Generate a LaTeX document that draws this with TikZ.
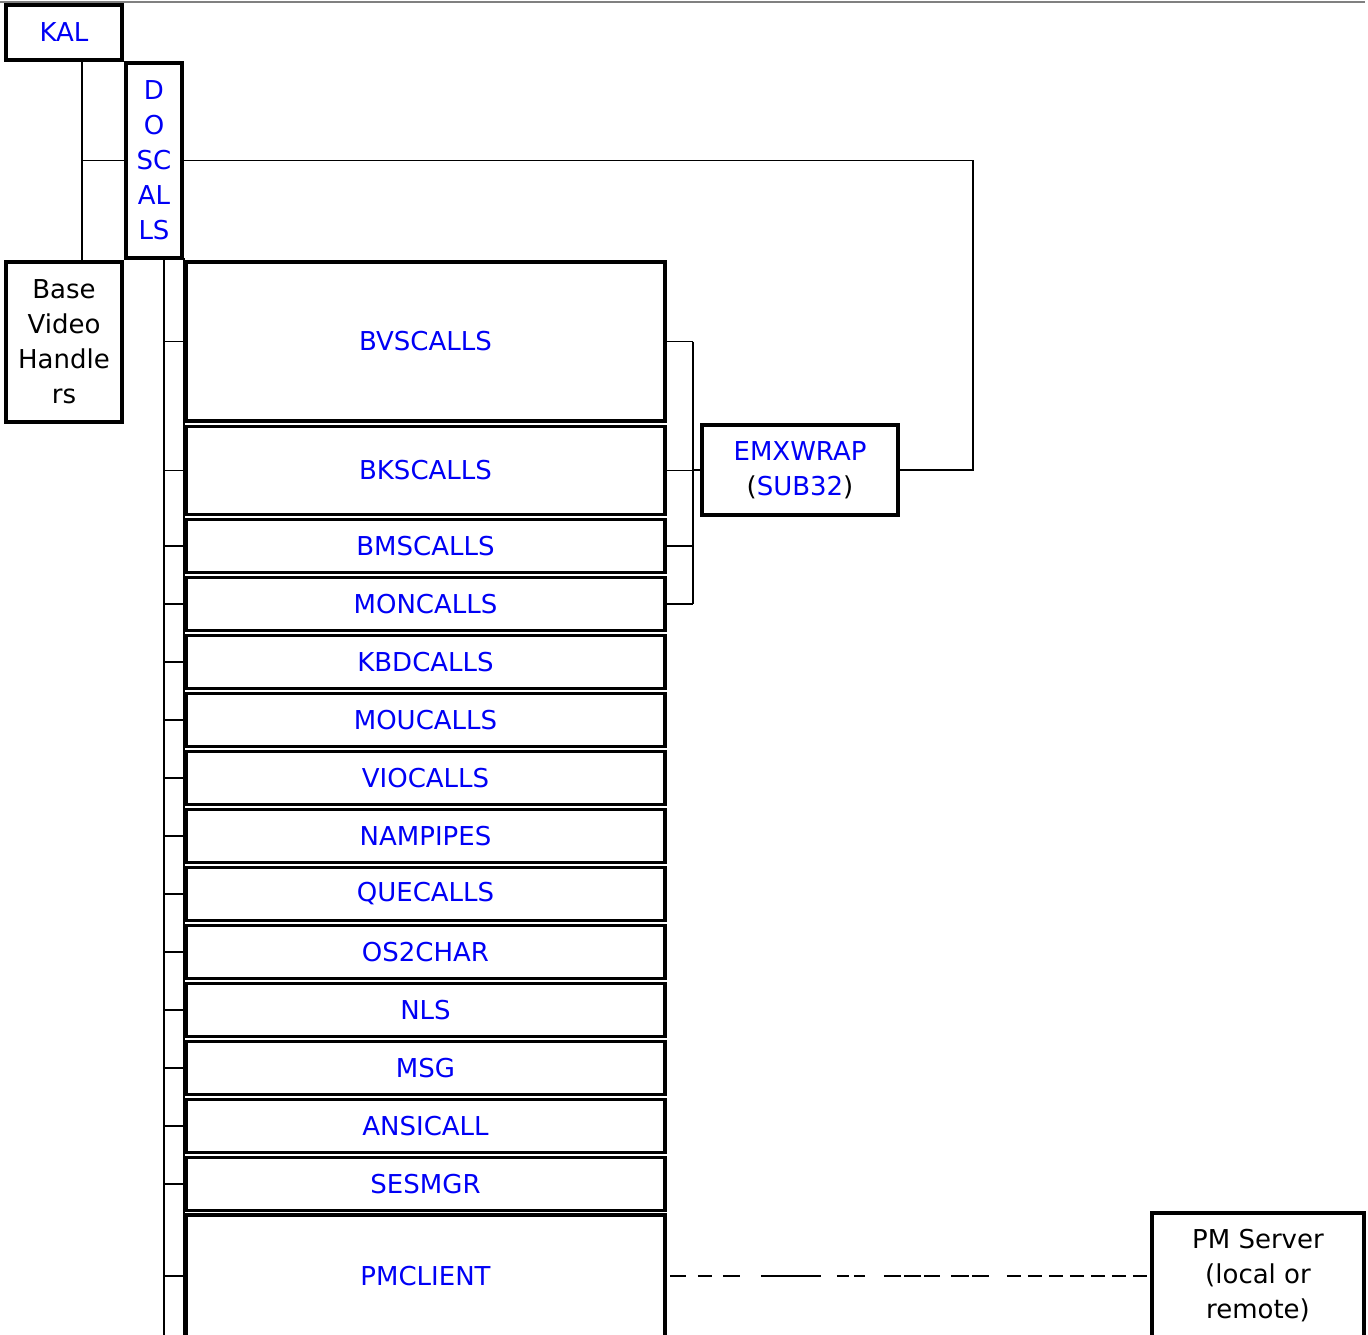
\documentclass[tikz,border=0pt]{standalone}
\usepackage{fontspec}
\setmainfont{DejaVu Sans}
\usetikzlibrary{positioning}
\definecolor{callblue}{RGB}{0,0,245}

\begin{document}
\begin{tikzpicture}[x=1pt, y=-1pt,
          unit/.style={
              draw,
              line width=3.5pt,
              inner sep=0pt,
              align=center,
              text=callblue,
              font=\fontsize{26}{35}\selectfont
            },
          call/.style={unit, minimum width=479pt, minimum height=53pt},
          link/.style={line width=1.6pt},
          pipe/.style={link, dash pattern=on 0pt off 3pt on 16pt off 12pt on 14pt off 11pt on 17pt off 21pt
              on 60pt off 16pt on 12pt off 5pt on 11pt off 19pt on 17pt off 3pt on 17pt off 3pt on 16pt off 11pt
              on 18pt off 3pt on 17pt off 18pt
              on 14pt off 7pt on 14pt off 7pt on 14pt off 7pt on 14pt off 7pt on 14pt off 7pt
              on 14pt off 7pt on 14pt off 7pt}
        ]
        \useasboundingbox (0,0) rectangle (1368,1334);
        \clip (0,0) rectangle (1368,1334);
        \draw[gray, line width=1.5pt] (0,2) -- (1365,2);

        \node[unit, minimum width=116pt, minimum height=55pt] (kal) at (64,32.5) {KAL};
        \node[unit, minimum width=56pt, minimum height=195pt] (doscalls) at (154,160.5) {D\\O\\SC\\AL\\LS};
        \node[unit, text=black, minimum width=116pt, minimum height=160pt] (bvh) at (64,342) {Base\\Video\\Handle\\rs};

        \node[call, minimum height=159pt] (bvscalls) at (425.5,341.5) {BVSCALLS};
        \node[call, minimum height=88pt] (bkscalls) at (425.5,470.5) {BKSCALLS};
        \node[call] (bmscalls) at (425.5,546) {BMSCALLS};
        \node[call] (moncalls) at (425.5,604) {MONCALLS};
        \node[call] (kbdcalls) at (425.5,662) {KBDCALLS};
        \node[call] (moucalls) at (425.5,720) {MOUCALLS};
        \node[call] (viocalls) at (425.5,778) {VIOCALLS};
        \node[call] (nampipes) at (425.5,836) {NAMPIPES};
        \node[call] (quecalls) at (425.5,894) {QUECALLS};
        \node[call] (os2char) at (425.5,952) {OS2CHAR};
        \node[call] (nls) at (425.5,1010) {NLS};
        \node[call] (msg) at (425.5,1068) {MSG};
        \node[call] (ansicall) at (425.5,1126) {ANSICALL};
        \node[call] (sesmgr) at (425.5,1184) {SESMGR};
        \node[call, minimum height=122pt] (pmclient) at (425.5,1276) {PMCLIENT};

        \node[unit, minimum width=196pt, minimum height=90pt] (emxwrap) at (800,470)
          {EMXWRAP\\\textcolor{black}{(}SUB32\textcolor{black}{)}};
        \node[unit, text=black, minimum width=212pt, minimum height=126pt] (pmserver) at (1258,1276)
          {PM Server\\(local or\\remote)};

        % KAL and DOSCALLS
        \draw[link] ([xshift=18pt]kal.south) -- ([xshift=18pt]bvh.north);
        \draw[link] ([xshift=18pt]kal.south |- doscalls.west) -- (doscalls.west);
        \coordinate (wrapturn) at (973,160.5);
        \draw[link] (doscalls.east) -- (wrapturn) |- (emxwrap.east);

        % bus under DOSCALLS
        \coordinate (busl) at (164,258);
        \coordinate (busr) at (184,258);
        \draw[link] (busl) -- ++(0,1100);
        \draw[link] (busr) -- ++(0,1100);
        \foreach \n in {bvscalls,bkscalls,bmscalls,moncalls,kbdcalls,moucalls,viocalls,nampipes,
            quecalls,os2char,nls,msg,ansicall,sesmgr,pmclient}
          \draw[link] (busl |- \n.west) -- (busr |- \n.west);

        % calls wrapped by EMXWRAP
        \coordinate (brk) at (693,470);
        \foreach \n in {bvscalls,bkscalls,bmscalls,moncalls}
          \draw[link] (\n.east) -- (brk |- \n.east);
        \draw[link] (brk |- bvscalls.east) -- (brk |- moncalls.east);
        \draw[link] (brk) -- (emxwrap.west);

        \draw[pipe] (pmclient.east) -- (pmserver.west);
      \end{tikzpicture}
\end{document}
